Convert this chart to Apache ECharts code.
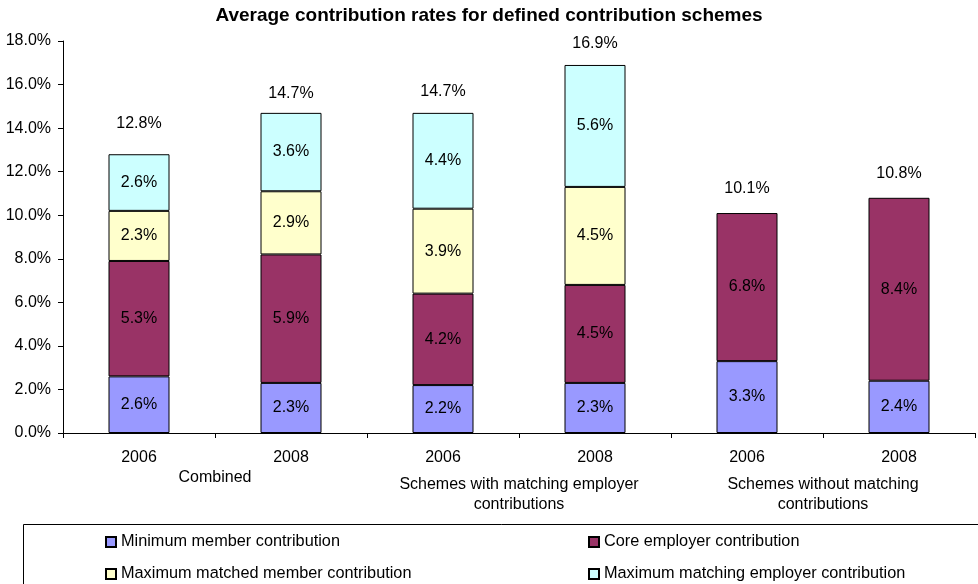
<!DOCTYPE html>
<html>
<head>
<meta charset="utf-8">
<style>
  html, body { margin: 0; padding: 0; background: #fff; }
  #chart { width: 978px; height: 584px; }
</style>
<script src="https://cdn.jsdelivr.net/npm/echarts@6/dist/echarts.min.js"></script>
</head>
<body>
<div id="chart"></div>
<script>
// Years along the bottom axis and the scheme groups beneath them
const years = ['2006', '2008', '2006', '2008', '2006', '2008'];
const groups = ['Combined', 'Schemes with matching employer\ncontributions', 'Schemes without matching\ncontributions'];

// Contribution components (% of salary)
const minimumMember = [2.6, 2.3, 2.2, 2.3, 3.3, 2.4];
const coreEmployer = [5.3, 5.9, 4.2, 4.5, 6.8, 8.4];
const matchedMember = [2.3, 2.9, 3.9, 4.5, null, null];
const matchingEmployer = [2.6, 3.6, 4.4, 5.6, null, null];
const totals = [12.8, 14.7, 14.7, 16.9, 10.1, 10.8];

const yTicks = { min: 0, max: 18, interval: 2 };

// gap between each bar top and its total label
const totalGaps = [22, 11, 13, 13, 16, 16];

const FONT = 'Liberation Sans, Arial, sans-serif';
const FS = 16;
const pct = v => (v == null ? '' : Number(v).toFixed(1) + '%');

function stackSeries(name, values, color) {
  return {
    name: name,
    type: 'bar',
    stack: 'rate',
    barWidth: 61,
    data: values,
    itemStyle: { color: color, borderColor: '#000', borderWidth: 1 },
    label: {
      show: true,
      position: 'inside',
      color: '#000',
      fontFamily: FONT,
      fontSize: FS,
      formatter: p => pct(p.value)
    },
    emphasis: { disabled: true }
  };
}

const legendBase = {
  orient: 'vertical',
  top: 534,
  padding: 0,
  itemGap: 16,
  itemWidth: 10,
  itemHeight: 10,
  icon: 'rect',
  selectedMode: false,
  textStyle: { fontFamily: FONT, fontSize: 16.3, color: '#000' }
};

const chart = echarts.init(document.getElementById('chart'), null, { renderer: 'canvas' });

chart.setOption({
  animation: false,
  backgroundColor: '#fff',
  title: {
    text: 'Average contribution rates for defined contribution schemes',
    left: 'center',
    top: 6,
    padding: 0,
    textStyle: { fontFamily: FONT, fontSize: 19, fontWeight: 'bold', color: '#000' }
  },
  grid: { left: 63, right: 3, top: 41, bottom: 151, containLabel: false },
  legend: [
    Object.assign({}, legendBase, {
      data: ['Minimum member contribution', 'Maximum matched member contribution'],
      left: 105
    }),
    Object.assign({}, legendBase, {
      data: ['Core employer contribution', 'Maximum matching employer contribution'],
      left: 588
    })
  ],
  graphic: [
    {
      type: 'rect',
      silent: true,
      shape: { x: 23.5, y: 524.5, width: 1000, height: 100 },
      style: { fill: 'none', stroke: '#000', lineWidth: 1 }
    }
  ],
  xAxis: [
    {
      type: 'category',
      data: years,
      axisLine: { lineStyle: { color: '#000', width: 1 } },
      axisTick: { show: true, length: 5, lineStyle: { color: '#000' } },
      axisLabel: { color: '#000', fontFamily: FONT, fontSize: FS, margin: 17 },
      splitLine: { show: false }
    },
    {
      type: 'category',
      data: groups,
      position: 'bottom',
      axisLine: { show: false },
      axisTick: { show: false },
      splitLine: { show: false },
      axisLabel: {
        color: '#000',
        fontFamily: FONT,
        fontSize: FS,
        margin: 42,
        interval: 0,
        formatter: v => (v.indexOf('\n') < 0 ? '{one|' + v + '}' : '{two|' + v.replace('\n', '}\n{two|') + '}'),
        rich: {
          one: { fontFamily: FONT, fontSize: FS, color: '#000', lineHeight: 6 },
          two: { fontFamily: FONT, fontSize: FS, color: '#000', lineHeight: 20 }
        }
      }
    }
  ],
  yAxis: {
    type: 'value',
    min: yTicks.min,
    max: yTicks.max,
    interval: yTicks.interval,
    axisLine: { show: true, lineStyle: { color: '#000', width: 1 } },
    axisTick: { show: true, length: 5, lineStyle: { color: '#000' } },
    splitLine: { show: false },
    axisLabel: {
      color: '#000',
      fontFamily: FONT,
      fontSize: FS,
      margin: 12,
      formatter: v => v.toFixed(1) + '%'
    }
  },
  series: [
    stackSeries('Minimum member contribution', minimumMember, '#9999FF'),
    stackSeries('Core employer contribution', coreEmployer, '#993366'),
    stackSeries('Maximum matched member contribution', matchedMember, '#FFFFCC'),
    stackSeries('Maximum matching employer contribution', matchingEmployer, '#CCFFFF'),
    {
      name: 'Total',
      type: 'scatter',
      symbolSize: 1,
      itemStyle: { color: 'rgba(0,0,0,0)', opacity: 1 },
      data: totals.map((v, i) => ({ value: v, label: { distance: totalGaps[i] } })),
      label: {
        show: true,
        position: 'top',
        color: '#000',
        opacity: 1,
        fontFamily: FONT,
        fontSize: FS,
        formatter: p => pct(p.value)
      },
      emphasis: { disabled: true },
      silent: true,
      z: 5
    }
  ]
});
</script>
</body>
</html>
